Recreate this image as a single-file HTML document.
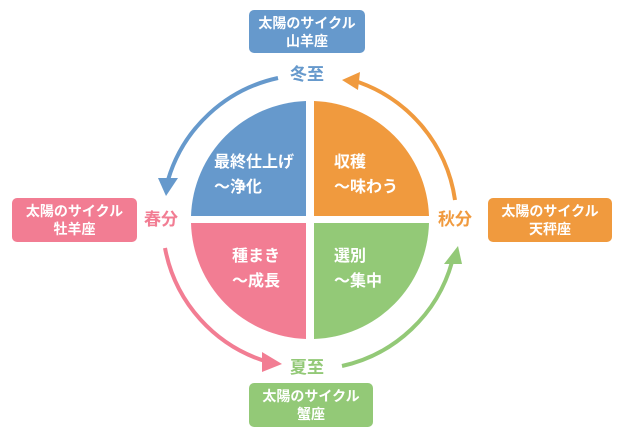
<!DOCTYPE html>
<html><head><meta charset="utf-8"><style>
body{margin:0;width:620px;height:439px;background:#fff;overflow:hidden;position:relative;font-family:"Liberation Sans","Noto Sans CJK JP",sans-serif}
.b{position:absolute;color:#fff;font-size:14px;line-height:18px;text-align:center;border-radius:5px;padding-top:4px;box-sizing:border-box;font-weight:bold}
.s{position:absolute;font-size:17px;font-weight:bold;line-height:20px}
.q{position:absolute;color:#fff;font-size:16px;line-height:25px;font-weight:bold}
</style></head><body>
<svg width="620" height="439" style="position:absolute;left:0;top:0">
<g>
<path d="M306,216 L306,101 A119,119 0 0 0 191,216 Z" fill="#6699cc"/>
<path d="M314,216 L314,101 A119,119 0 0 1 429,216 Z" fill="#f09a3e"/>
<path d="M306,223 L191,223 A119,119 0 0 0 306,339 Z" fill="#f27d93"/>
<path d="M314,223 L429,223 A119,119 0 0 1 314,339 Z" fill="#93c977"/>
</g>
<g fill="none" stroke-width="4">
<path d="M278,78 A147,147 0 0 0 168,180" stroke="#6699cc"/>
<path d="M165,248 A147,147 0 0 0 268,362" stroke="#f27d93"/>
<path d="M342,366 A147,147 0 0 0 452,262" stroke="#93c977"/>
<path d="M455,200 A147,147 0 0 0 352,80" stroke="#f09a3e"/>
</g>
<path d="M158,178 L178,178 L166,196 Z" fill="#6699cc"/>
<path d="M262,352 L282,364 L262,372 Z" fill="#f27d93"/>
<path d="M444,264 L462,264 L458,246 Z" fill="#93c977"/>
<path d="M342,80 L360,72 L358,90 Z" fill="#f09a3e"/>
</svg>
<div class="b" style="left:249px;top:10px;width:116px;height:43px;background:#6699cc">太陽のサイクル<br>山羊座</div>
<div class="b" style="left:12px;top:198px;width:125px;height:44px;background:#f27d93">太陽のサイクル<br>牡羊座</div>
<div class="b" style="left:488px;top:198px;width:124px;height:44px;background:#f09a3e">太陽のサイクル<br>天秤座</div>
<div class="b" style="left:249px;top:383px;width:124px;height:44px;background:#93c977">太陽のサイクル<br>蟹座</div>
<div class="s" style="left:290px;top:65px;color:#6699cc">冬至</div>
<div class="s" style="left:144px;top:210px;color:#f27d93">春分</div>
<div class="s" style="left:438px;top:210px;color:#f09a3e">秋分</div>
<div class="s" style="left:290px;top:358px;color:#93c977">夏至</div>
<div class="q" style="left:214px;top:150px">最終仕上げ<br>〜浄化</div>
<div class="q" style="left:334px;top:150px">収穫<br>〜味わう</div>
<div class="q" style="left:232px;top:244px">種まき<br>〜成長</div>
<div class="q" style="left:334px;top:244px">選別<br>〜集中</div>
</body></html>
